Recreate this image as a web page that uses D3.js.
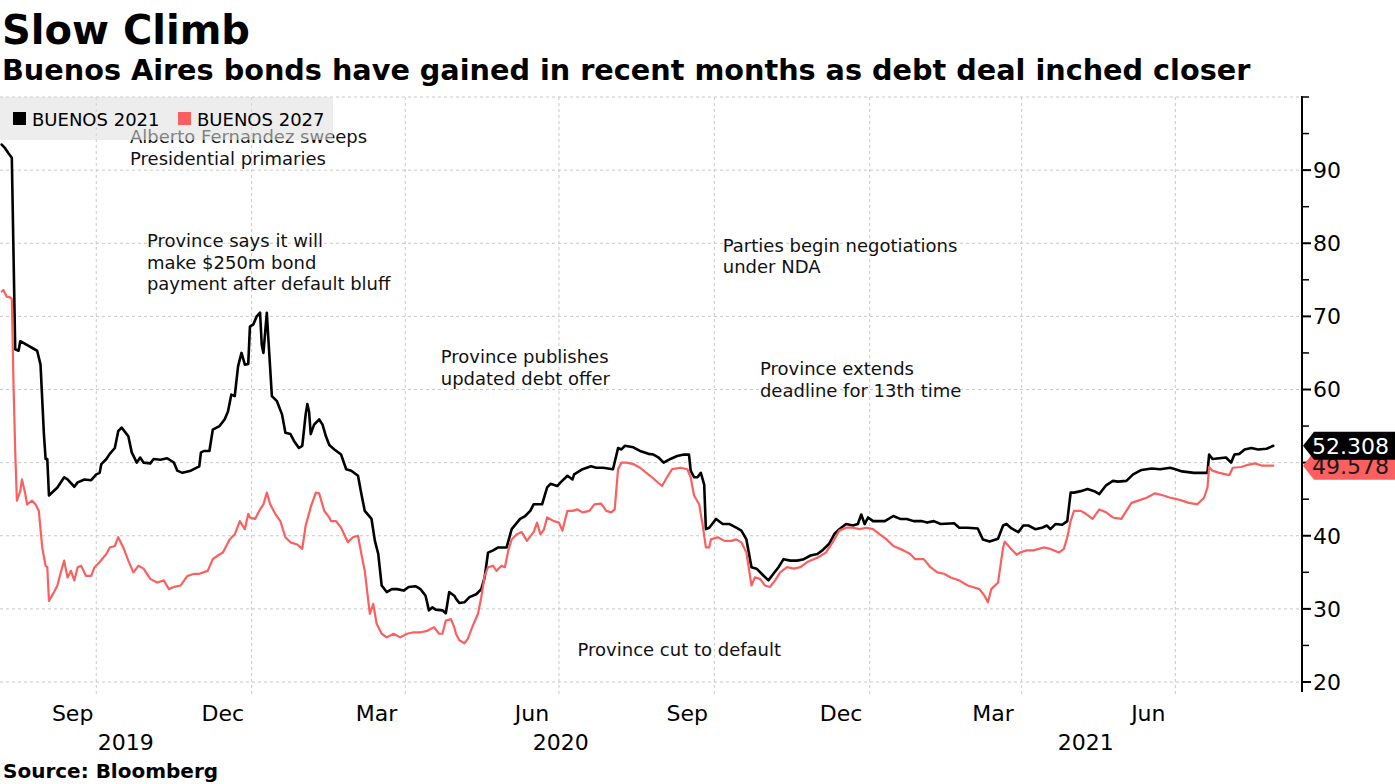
<!DOCTYPE html>
<html>
<head>
<meta charset="utf-8">
<script src="https://cdn.jsdelivr.net/npm/d3@7/dist/d3.min.js"></script>
<style>
  html, body { margin: 0; padding: 0; background: #fff; }
  svg { display: block; }
  text { font-family: "DejaVu Sans", sans-serif; }
</style>
</head>
<body>
<svg id="chart" width="1395" height="784"></svg>
<script>
// ---------------- DATA ----------------
const seriesNames = ["BUENOS 2021", "BUENOS 2027"];

const buenos2021 = [
["2019-08-06",93.5],["2019-08-08",93.0],["2019-08-10",92.3],["2019-08-12",91.7],["2019-08-14",65.5],
["2019-08-16",65.3],["2019-08-17",66.6],["2019-08-27",65.3],["2019-08-29",63.4],["2019-08-31",53.9],
["2019-09-01",50.5],["2019-09-02",50.5],["2019-09-03",45.5],["2019-09-08",46.6],["2019-09-12",48.0],
["2019-09-14",47.7],["2019-09-18",46.7],["2019-09-20",47.3],["2019-09-24",47.7],["2019-09-28",47.6],
["2019-10-01",48.4],["2019-10-03",48.6],["2019-10-04",49.8],["2019-10-07",50.5],["2019-10-09",51.2],
["2019-10-12",52.0],["2019-10-14",54.3],["2019-10-16",54.8],["2019-10-18",54.2],["2019-10-20",53.6],
["2019-10-22",51.4],["2019-10-25",50.0],["2019-10-27",50.7],["2019-10-29",50.0],["2019-11-02",49.9],
["2019-11-04",50.5],["2019-11-08",50.4],["2019-11-12",50.6],["2019-11-16",50.0],["2019-11-18",48.9],
["2019-11-21",48.6],["2019-11-26",48.9],["2019-12-01",49.5],["2019-12-02",51.4],["2019-12-04",51.6],
["2019-12-07",51.6],["2019-12-09",54.5],["2019-12-13",55.0],["2019-12-16",55.9],["2019-12-18",57.0],
["2019-12-20",59.3],["2019-12-22",59.1],["2019-12-24",63.2],["2019-12-26",65.0],["2019-12-28",63.4],
["2019-12-30",63.5],["2019-12-31",68.6],["2020-01-02",68.9],["2020-01-04",70.0],["2020-01-06",70.5],
["2020-01-07",66.1],["2020-01-08",65.0],["2020-01-10",70.5],["2020-01-11",66.6],["2020-01-13",59.1],
["2020-01-16",58.4],["2020-01-19",56.6],["2020-01-21",54.1],["2020-01-24",53.9],["2020-01-26",53.0],
["2020-01-29",52.0],["2020-01-31",52.3],["2020-02-02",56.6],["2020-02-03",58.0],["2020-02-04",57.0],
["2020-02-05",53.9],["2020-02-07",55.2],["2020-02-10",55.9],["2020-02-12",55.2],["2020-02-14",53.6],
["2020-02-16",52.4],["2020-02-19",51.8],["2020-02-23",51.1],["2020-02-26",49.1],["2020-02-29",48.9],
["2020-03-04",48.2],["2020-03-06",45.7],["2020-03-08",43.4],["2020-03-12",42.3],["2020-03-14",39.3],
["2020-03-16",37.5],["2020-03-18",33.2],["2020-03-21",32.3],["2020-03-24",32.7],["2020-03-27",32.7],
["2020-03-31",32.5],["2020-04-03",33.0],["2020-04-07",33.1],["2020-04-10",32.7],["2020-04-13",31.8],
["2020-04-15",29.8],["2020-04-17",30.2],["2020-04-19",29.9],["2020-04-23",29.8],["2020-04-25",29.4],
["2020-04-27",32.3],["2020-04-30",31.8],["2020-05-01",31.4],["2020-05-03",30.8],["2020-05-06",30.9],
["2020-05-09",31.6],["2020-05-13",32.0],["2020-05-16",32.7],["2020-05-18",34.3],["2020-05-20",37.7],
["2020-05-23",38.0],["2020-05-26",38.4],["2020-05-31",38.4],["2020-06-03",40.9],["2020-06-08",42.3],
["2020-06-11",42.7],["2020-06-14",43.4],["2020-06-16",44.3],["2020-06-21",44.3],["2020-06-24",46.6],
["2020-06-26",47.1],["2020-06-30",46.8],["2020-07-02",47.3],["2020-07-06",48.2],["2020-07-09",47.7],
["2020-07-10",48.4],["2020-07-15",49.1],["2020-07-20",49.5],["2020-07-23",49.3],["2020-07-27",49.3],
["2020-08-02",49.1],["2020-08-05",52.0],["2020-08-07",51.8],["2020-08-09",52.3],["2020-08-14",52.1],
["2020-08-18",51.6],["2020-08-23",51.2],["2020-08-26",51.1],["2020-08-29",50.7],["2020-09-01",50.0],
["2020-09-05",50.5],["2020-09-09",50.9],["2020-09-13",51.1],["2020-09-16",51.1],["2020-09-17",48.9],
["2020-09-19",48.0],["2020-09-21",48.0],["2020-09-23",48.6],["2020-09-25",47.0],["2020-09-26",40.9],
["2020-09-28",41.1],["2020-10-02",42.3],["2020-10-06",41.6],["2020-10-10",41.6],["2020-10-14",41.1],
["2020-10-17",40.7],["2020-10-20",39.5],["2020-10-23",35.7],["2020-10-26",35.5],["2020-10-29",34.8],
["2020-11-02",33.9],["2020-11-05",34.8],["2020-11-08",35.7],["2020-11-11",36.8],["2020-11-15",36.6],
["2020-11-19",36.6],["2020-11-23",36.8],["2020-11-27",37.3],["2020-12-01",37.5],["2020-12-04",38.0],
["2020-12-08",38.9],["2020-12-11",40.2],["2020-12-14",40.9],["2020-12-18",41.6],["2020-12-22",41.4],
["2020-12-25",41.6],["2020-12-27",42.9],["2020-12-29",41.6],["2020-12-31",42.5],["2021-01-03",42.0],
["2021-01-10",42.0],["2021-01-15",42.7],["2021-01-19",42.3],["2021-01-23",42.3],["2021-01-27",42.0],
["2021-02-01",42.0],["2021-02-04",41.8],["2021-02-08",42.0],["2021-02-12",41.6],["2021-02-20",41.7],
["2021-02-23",41.1],["2021-02-28",41.1],["2021-03-06",41.0],["2021-03-09",39.5],["2021-03-13",39.2],
["2021-03-18",39.6],["2021-03-21",41.4],["2021-03-23",41.6],["2021-03-26",41.0],["2021-03-30",40.5],
["2021-04-02",41.4],["2021-04-05",41.4],["2021-04-09",40.9],["2021-04-13",41.1],["2021-04-16",41.4],
["2021-04-18",40.9],["2021-04-21",41.6],["2021-04-25",41.5],["2021-04-28",42.0],["2021-04-30",45.9],
["2021-05-02",45.9],["2021-05-06",46.1],["2021-05-10",46.4],["2021-05-14",46.1],["2021-05-17",45.7],
["2021-05-21",46.9],["2021-05-25",47.5],["2021-05-28",47.4],["2021-06-02",47.5],["2021-06-06",48.4],
["2021-06-11",49.0],["2021-06-17",49.2],["2021-06-22",49.1],["2021-06-28",49.3],["2021-07-01",49.1],
["2021-07-05",48.8],["2021-07-12",48.6],["2021-07-20",48.6],["2021-07-21",51.1],["2021-07-23",50.5],
["2021-07-27",50.6],["2021-07-31",50.7],["2021-08-03",50.0],["2021-08-05",51.1],["2021-08-08",51.2],
["2021-08-11",51.8],["2021-08-15",52.0],["2021-08-19",51.8],["2021-08-24",51.9],["2021-08-28",52.308]
];

const buenos2027 = [
["2019-08-06",73.4],["2019-08-07",73.6],["2019-08-09",72.7],["2019-08-11",72.6],["2019-08-12",72.4],
["2019-08-13",60.7],["2019-08-14",51.6],["2019-08-15",44.8],["2019-08-17",46.1],["2019-08-18",47.7],
["2019-08-20",45.7],["2019-08-21",44.3],["2019-08-24",44.8],["2019-08-26",44.3],["2019-08-28",43.4],
["2019-08-30",38.4],["2019-09-01",35.9],["2019-09-02",35.7],["2019-09-03",31.1],["2019-09-06",32.3],
["2019-09-08",33.2],["2019-09-10",35.0],["2019-09-12",36.6],["2019-09-14",34.3],["2019-09-16",35.2],
["2019-09-18",33.9],["2019-09-20",35.7],["2019-09-22",35.9],["2019-09-25",34.5],["2019-09-28",34.5],
["2019-09-30",35.7],["2019-10-03",36.4],["2019-10-07",37.5],["2019-10-09",38.4],["2019-10-12",38.6],
["2019-10-14",39.8],["2019-10-17",38.4],["2019-10-20",36.6],["2019-10-23",35.0],["2019-10-26",35.9],
["2019-10-29",35.5],["2019-11-02",34.1],["2019-11-06",33.6],["2019-11-10",33.9],["2019-11-13",32.7],
["2019-11-16",33.0],["2019-11-20",33.2],["2019-11-24",34.5],["2019-11-28",34.8],["2019-12-01",34.8],
["2019-12-06",35.2],["2019-12-09",36.8],["2019-12-12",37.3],["2019-12-15",37.7],["2019-12-19",39.5],
["2019-12-22",40.2],["2019-12-25",42.0],["2019-12-28",40.9],["2019-12-30",43.0],["2019-12-31",42.5],
["2020-01-03",42.3],["2020-01-06",43.6],["2020-01-08",44.3],["2020-01-10",45.9],["2020-01-12",44.3],
["2020-01-15",43.0],["2020-01-18",42.0],["2020-01-21",39.8],["2020-01-24",39.1],["2020-01-28",38.8],
["2020-01-31",38.2],["2020-02-02",41.4],["2020-02-05",43.9],["2020-02-08",45.9],["2020-02-10",45.8],
["2020-02-13",43.4],["2020-02-16",42.5],["2020-02-17",42.0],["2020-02-20",42.0],["2020-02-23",41.1],
["2020-02-27",39.1],["2020-03-01",39.8],["2020-03-04",40.0],["2020-03-06",37.5],["2020-03-08",35.2],
["2020-03-11",29.3],["2020-03-13",30.7],["2020-03-15",28.0],["2020-03-18",26.6],["2020-03-21",26.1],
["2020-03-25",26.6],["2020-03-29",26.1],["2020-04-02",26.6],["2020-04-06",26.8],["2020-04-10",26.8],
["2020-04-14",27.0],["2020-04-18",27.5],["2020-04-21",26.6],["2020-04-23",26.6],["2020-04-25",28.4],
["2020-04-28",28.6],["2020-04-30",27.5],["2020-05-01",26.6],["2020-05-03",25.7],["2020-05-06",25.3],
["2020-05-08",25.9],["2020-05-11",27.7],["2020-05-14",29.3],["2020-05-16",31.6],["2020-05-18",34.5],
["2020-05-20",35.7],["2020-05-23",35.9],["2020-05-25",35.2],["2020-05-28",35.9],["2020-05-30",35.7],
["2020-06-01",38.0],["2020-06-03",39.5],["2020-06-06",40.2],["2020-06-09",40.5],["2020-06-12",39.3],
["2020-06-16",40.5],["2020-06-18",41.8],["2020-06-20",40.2],["2020-06-22",40.8],["2020-06-24",42.5],
["2020-06-28",42.0],["2020-07-01",41.8],["2020-07-03",40.7],["2020-07-06",43.4],["2020-07-09",43.4],
["2020-07-12",43.6],["2020-07-15",43.2],["2020-07-19",43.4],["2020-07-22",44.3],["2020-07-26",44.4],
["2020-07-29",43.4],["2020-08-01",43.2],["2020-08-03",43.6],["2020-08-05",49.1],["2020-08-07",50.0],
["2020-08-10",50.0],["2020-08-14",49.8],["2020-08-18",49.3],["2020-08-24",48.2],["2020-08-31",46.8],
["2020-09-03",48.0],["2020-09-06",49.1],["2020-09-11",49.3],["2020-09-15",49.1],["2020-09-17",48.0],
["2020-09-19",45.5],["2020-09-22",44.3],["2020-09-24",41.6],["2020-09-26",38.4],["2020-09-28",38.4],
["2020-09-29",39.5],["2020-10-03",39.8],["2020-10-07",39.3],["2020-10-11",39.3],["2020-10-14",39.5],
["2020-10-17",39.1],["2020-10-20",37.7],["2020-10-23",33.2],["2020-10-25",34.3],["2020-10-28",34.1],
["2020-10-31",33.2],["2020-11-03",33.0],["2020-11-06",33.9],["2020-11-09",35.0],["2020-11-13",35.7],
["2020-11-17",35.5],["2020-11-21",35.7],["2020-11-25",36.4],["2020-12-01",37.0],["2020-12-06",37.7],
["2020-12-10",39.1],["2020-12-14",40.7],["2020-12-18",41.1],["2020-12-22",41.1],["2020-12-26",40.9],
["2020-12-30",41.1],["2021-01-03",40.9],["2021-01-07",40.2],["2021-01-11",39.5],["2021-01-15",38.6],
["2021-01-21",38.0],["2021-01-25",37.5],["2021-01-28",36.8],["2021-02-02",36.8],["2021-02-06",35.7],
["2021-02-10",35.0],["2021-02-14",34.8],["2021-02-18",34.3],["2021-02-23",33.9],["2021-02-28",33.2],
["2021-03-03",33.0],["2021-03-07",32.7],["2021-03-10",31.8],["2021-03-12",30.9],["2021-03-14",32.7],
["2021-03-18",33.6],["2021-03-21",38.4],["2021-03-22",39.2],["2021-03-25",38.4],["2021-03-29",37.4],
["2021-03-31",37.7],["2021-04-04",38.0],["2021-04-08",38.0],["2021-04-14",38.4],["2021-04-18",38.2],
["2021-04-23",37.7],["2021-04-26",38.2],["2021-04-28",39.8],["2021-04-30",42.0],["2021-05-02",43.4],
["2021-05-06",43.4],["2021-05-09",43.0],["2021-05-13",42.3],["2021-05-17",43.6],["2021-05-21",43.2],
["2021-05-25",42.5],["2021-05-30",42.3],["2021-06-02",43.4],["2021-06-05",44.5],["2021-06-09",44.8],
["2021-06-14",45.2],["2021-06-19",45.8],["2021-06-24",45.5],["2021-06-28",45.2],["2021-07-02",45.0],
["2021-07-05",44.8],["2021-07-09",44.5],["2021-07-14",44.3],["2021-07-18",45.2],["2021-07-20",46.6],
["2021-07-21",49.4],["2021-07-23",48.9],["2021-07-27",48.6],["2021-08-02",48.3],["2021-08-04",49.3],
["2021-08-09",49.4],["2021-08-13",49.7],["2021-08-17",49.9],["2021-08-21",49.6],["2021-08-28",49.578]
];

const yTickValues = [20, 30, 40, 50, 60, 70, 80, 90];
const yMinorValues = [25, 35, 45, 55, 65, 75, 85, 95, 100];
const monthLabels = [
  ["2019-09-17","Sep"],["2019-12-15","Dec"],["2020-03-15","Mar"],["2020-06-15","Jun"],
  ["2020-09-15","Sep"],["2020-12-15","Dec"],["2021-03-15","Mar"],["2021-06-15","Jun"]
];
const gridDates = ["2019-10-01","2020-01-01","2020-04-01","2020-07-01","2020-10-01","2021-01-01","2021-04-01","2021-07-01"];
const yearLabels = [["2019","2019-08-05","2020-01-01"],["2020","2020-01-01","2021-01-01"],["2021","2021-01-01","2021-09-14"]];
const lastValues = ["52.308", "49.578"];
const annotations = [
  {date:"2019-10-21", value:93.7, lines:["Alberto Fernandez sweeps","Presidential primaries"]},
  {date:"2019-10-31", value:79.5, lines:["Province says it will","make $250m bond","payment after default bluff"]},
  {date:"2020-04-22", value:63.6, lines:["Province publishes","updated debt offer"]},
  {date:"2020-10-06", value:78.85, lines:["Parties begin negotiations","under NDA"]},
  {date:"2020-10-28", value:62.0, lines:["Province extends","deadline for 13th time"]},
  {date:"2020-07-12", value:23.56, lines:["Province cut to default"]}
];

// ---------------- CHART ----------------
const parse = d3.utcParse("%Y-%m-%d");
const svg = d3.select("#chart");
const axisX = 1302;
const x = d3.scaleUtc().domain([parse("2019-08-05"), parse("2021-09-14")]).range([0, axisX]);
const y = d3.scaleLinear().domain([20, 100]).range([682, 97]);
const BLACK = "#000000", RED = "#fb5f5f";

// gridlines
const grid = svg.append("g");
grid.selectAll("line.h").data(yTickValues.concat([100])).enter().append("line")
  .attr("x1", 0).attr("x2", axisX).attr("y1", d => y(d)).attr("y2", d => y(d))
  .attr("stroke", "#c8c8c8").attr("stroke-width", 1).attr("stroke-dasharray", "3,3");
grid.selectAll("line.v").data(gridDates).enter().append("line")
  .attr("x1", d => x(parse(d))).attr("x2", d => x(parse(d)))
  .attr("y1", y(100)).attr("y2", 697)
  .attr("stroke", "#c8c8c8").attr("stroke-width", 1).attr("stroke-dasharray", "3,3");

// annotations (drawn beneath legend box)
const ann = svg.append("g").attr("font-size", "18px").attr("fill", "#111");
annotations.forEach(a => {
  const t = ann.append("text").attr("x", x(parse(a.date))).attr("y", y(a.value));
  a.lines.forEach((l, i) => t.append("tspan").attr("x", x(parse(a.date))).attr("dy", i === 0 ? 0 : 21.7).text(l));
});

// lines
const line = d3.line().x(d => x(parse(d[0]))).y(d => y(d[1])).curve(d3.curveLinear);
svg.append("path").datum(buenos2021).attr("d", line).attr("fill", "none")
  .attr("stroke", BLACK).attr("stroke-width", 2.6).attr("stroke-linejoin", "round").attr("stroke-linecap", "round");
svg.append("path").datum(buenos2027).attr("d", line).attr("fill", "none")
  .attr("stroke", RED).attr("stroke-width", 2.2).attr("stroke-linejoin", "round").attr("stroke-linecap", "round");

// legend
const lg = svg.append("g");
lg.append("rect").attr("x", 0).attr("y", 97).attr("width", 333).attr("height", 43)
  .attr("fill", "#dedede").attr("fill-opacity", 0.55);
lg.append("rect").attr("x", 13).attr("y", 112).attr("width", 13).attr("height", 13).attr("fill", BLACK);
lg.append("text").attr("x", 32).attr("y", 126).attr("font-size", "18px").attr("fill", "#000").text(seriesNames[0]);
lg.append("rect").attr("x", 178).attr("y", 112).attr("width", 13).attr("height", 13).attr("fill", RED);
lg.append("text").attr("x", 197).attr("y", 126).attr("font-size", "18px").attr("fill", "#000").text(seriesNames[1]);

// right axis
const ax = svg.append("g");
ax.append("line").attr("x1", axisX).attr("x2", axisX).attr("y1", y(100) - 1).attr("y2", 692)
  .attr("stroke", "#000").attr("stroke-width", 2);
ax.selectAll("line.maj").data(yTickValues).enter().append("line")
  .attr("x1", axisX).attr("x2", axisX + 9).attr("y1", d => y(d)).attr("y2", d => y(d))
  .attr("stroke", "#000").attr("stroke-width", 2);
ax.selectAll("line.min").data(yMinorValues).enter().append("line")
  .attr("x1", axisX).attr("x2", axisX + 7).attr("y1", d => y(d)).attr("y2", d => y(d))
  .attr("stroke", "#000").attr("stroke-width", 1.5);
ax.selectAll("text").data(yTickValues).enter().append("text")
  .attr("x", 1313).attr("y", d => y(d)).attr("dy", "0.36em")
  .attr("font-size", "22px").attr("fill", "#000").text(d => d);

// last value tags
const vRed = buenos2027[buenos2027.length - 1][1];
const vBlk = buenos2021[buenos2021.length - 1][1];
function tag(v, fill, txtColor, label) {
  const cy = y(v), h = 28;
  const g = svg.append("g");
  g.append("path")
    .attr("d", `M${axisX + 1},${cy} L${axisX + 12},${cy - h / 2} L1395,${cy - h / 2} L1395,${cy + h / 2} L${axisX + 12},${cy + h / 2} Z`)
    .attr("fill", fill);
  g.append("text").attr("x", 1312).attr("y", cy).attr("dy", "0.36em")
    .attr("font-size", "22px").attr("fill", txtColor).text(label);
}
tag(vRed, RED, "#1a1a1a", lastValues[1]);
tag(vBlk, BLACK, "#ffffff", lastValues[0]);

// x axis labels
const xl = svg.append("g").attr("font-size", "22px").attr("fill", "#000").attr("text-anchor", "middle");
xl.selectAll("text.m").data(monthLabels).enter().append("text")
  .attr("x", d => x(parse(d[0]))).attr("y", 721).text(d => d[1]);
xl.selectAll("text.y").data(yearLabels).enter().append("text")
  .attr("x", d => (x(parse(d[1])) + Math.min(axisX, x(parse(d[2])))) / 2).attr("y", 750).text(d => d[0]);

// titles
svg.append("text").attr("x", 2).attr("y", 44).attr("font-size", "40px").attr("font-weight", "bold").text("Slow Climb");
svg.append("text").attr("x", 2).attr("y", 80).attr("font-size", "28.7px").attr("font-weight", "bold")
  .text("Buenos Aires bonds have gained in recent months as debt deal inched closer");
svg.append("text").attr("x", 3).attr("y", 778).attr("font-size", "20px").attr("font-weight", "bold").text("Source: Bloomberg");
</script>
</body>
</html>
